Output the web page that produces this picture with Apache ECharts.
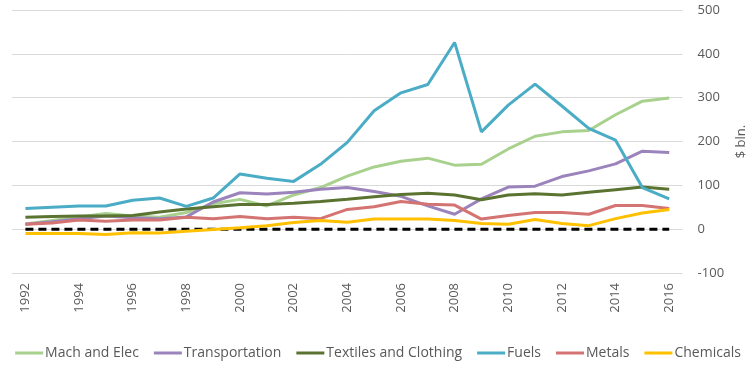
<!DOCTYPE html>
<html>
<head>
<meta charset="utf-8">
<script src="https://cdn.jsdelivr.net/npm/echarts@6/dist/echarts.min.js"></script>
<style>
html,body{margin:0;padding:0;background:#fff;}
#c{width:756px;height:382px;}
</style>
</head>
<body>
<div id="c"></div>
<script>
var years = ['1992','1993','1994','1995','1996','1997','1998','1999','2000','2001','2002','2003','2004','2005','2006','2007','2008','2009','2010','2011','2012','2013','2014','2015','2016'];
var machElec   = [12,20,28,36,30,27,38,58,68,53,78,95,121,142,155,162,146,148,183,212,222,225,261,292,299];
var transport  = [11,17,24,30,26,24,28,62,83,80,84,91,95,86,75,53,34,69,96,98,120,133,149,178,175];
var textiles   = [27,29,30,30,31,39,46,51,56,56,59,63,68,74,79,82,78,67,78,81,78,84,90,96,91];
var fuels      = [47,50,53,53,66,71,52,71,126,116,109,148,198,270,311,330,426,222,283,331,281,230,203,95,69];
var metals     = [11,14,21,18,21,21,27,24,29,24,27,24,45,51,63,57,55,23,31,38,38,34,54,54,47];
var chemicals  = [-10,-10,-10,-12,-8,-9,-5,-1,3,8,15,20,16,23,23,23,20,13,11,22,13,8,24,37,45];
var zeroLine   = years.map(function(){return 0;});
var yTicks = {min:-100, max:500, interval:100};

var names = ['Mach and Elec','Transportation','Textiles and Clothing','Fuels','Metals','Chemicals'];
var colors = ['#A9D18E','#9B83BB','#5B7330','#4BACC6','#D47472','#FFC000'];
var datas = [machElec, transport, textiles, fuels, metals, chemicals];

var series = [{
  name:'zero', type:'line', data:zeroLine, symbol:'none', silent:true, z:1,
  lineStyle:{color:'#000', width:3, type:[8,5]}
}];
names.forEach(function(n,i){
  series.push({name:n, type:'line', data:datas[i], symbol:'none',
    lineStyle:{color:colors[i], width:3}, itemStyle:{color:colors[i]}, z:2+i});
});

var chart = echarts.init(document.getElementById('c'));
chart.setOption({
  animation:false,
  textStyle:{fontFamily:'Open Sans'},
  grid:{left:12, right:73, top:10, bottom:109, containLabel:false},
  legend:{
    data:names, bottom:17, left:'center', icon:'rect', itemWidth:28, itemHeight:3, itemGap:15,
    textStyle:{color:'#595959', fontSize:14, fontFamily:'Open Sans', padding:[0,0,0,-3]}
  },
  xAxis:{
    type:'category', data:years, boundaryGap:true,
    axisLine:{show:false}, axisTick:{show:false},
    axisLabel:{rotate:90, interval:1, color:'#595959', fontSize:13, margin:10, fontFamily:'Open Sans'}
  },
  yAxis:{
    type:'value', position:'right', min:yTicks.min, max:yTicks.max, interval:yTicks.interval,
    name:'$ bln.', nameLocation:'middle', nameGap:48, nameRotate:90,
    nameTextStyle:{color:'#595959', fontSize:13, fontFamily:'Open Sans', padding:[0,0,0,0]},
    axisLine:{show:false}, axisTick:{show:false},
    axisLabel:{color:'#595959', fontSize:13, margin:15, fontFamily:'Open Sans'},
    splitLine:{lineStyle:{color:'#D9D9D9', width:1}}
  },
  series:series
});
</script>
</body>
</html>
